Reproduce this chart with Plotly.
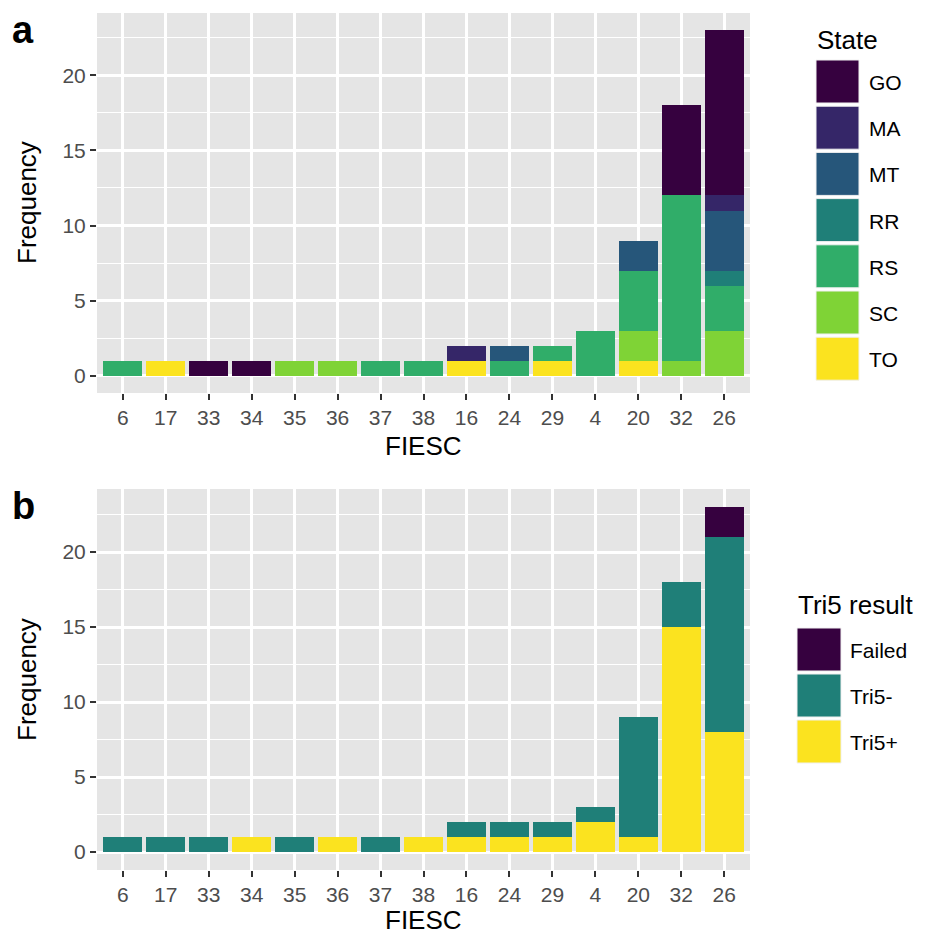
import plotly.graph_objects as go
from plotly.subplots import make_subplots

categories = ["6", "17", "33", "34", "35", "36", "37", "38", "16", "24", "29", "4", "20", "32", "26"]

# Panel a: counts by state (stacked bottom -> top: TO, SC, RS, RR, MT, MA, GO)
state_names = ["GO", "MA", "MT", "RR", "RS", "SC", "TO"]
GO = [0, 0, 1, 1, 0, 0, 0, 0, 0, 0, 0, 0, 0, 6, 11]
MA = [0, 0, 0, 0, 0, 0, 0, 0, 1, 0, 0, 0, 0, 0, 1]
MT = [0, 0, 0, 0, 0, 0, 0, 0, 0, 1, 0, 0, 2, 0, 4]
RR = [0, 0, 0, 0, 0, 0, 0, 0, 0, 0, 0, 0, 0, 0, 1]
RS = [1, 0, 0, 0, 0, 0, 1, 1, 0, 1, 1, 3, 4, 11, 3]
SC = [0, 0, 0, 0, 1, 1, 0, 0, 0, 0, 0, 0, 2, 1, 3]
TO = [0, 1, 0, 0, 0, 0, 0, 0, 1, 0, 1, 0, 1, 0, 0]
state_values = {"GO": GO, "MA": MA, "MT": MT, "RR": RR, "RS": RS, "SC": SC, "TO": TO}
state_colors = {"GO": "#36013f", "MA": "#352668", "MT": "#26567a", "RR": "#1f7f78",
                "RS": "#30ad69", "SC": "#7fd336", "TO": "#fbe31f"}

# Panel b: Tri5 result (stacked bottom -> top: Tri5+, Tri5-, Failed)
tri_names = ["Failed", "Tri5-", "Tri5+"]
Failed = [0, 0, 0, 0, 0, 0, 0, 0, 0, 0, 0, 0, 0, 0, 2]
Tri5_neg = [1, 1, 1, 0, 1, 0, 1, 0, 1, 1, 1, 1, 8, 3, 13]
Tri5_pos = [0, 0, 0, 1, 0, 1, 0, 1, 1, 1, 1, 2, 1, 15, 8]
tri_values = {"Failed": Failed, "Tri5-": Tri5_neg, "Tri5+": Tri5_pos}
tri_colors = {"Failed": "#36013f", "Tri5-": "#1f7f78", "Tri5+": "#fbe31f"}

# The page body has a default 8px margin, so the figure is drawn 8px smaller
OFF = 8
W, H = 931 - OFF, 935 - OFF
FONT = "Liberation Sans, Arial, sans-serif"
# plot region in reference pixels
PL, PR, PT, PB = 97, 750, 13, 870
ML, MR, MT_, MB = PL - OFF, W - (PR - OFF), PT - OFF, H - (PB - OFF)
PW, PH = PR - PL, PB - PT

fig = make_subplots(rows=2, cols=1)


def nz(vals):
    return [v if v != 0 else None for v in vals]


for name in reversed(state_names):
    fig.add_trace(go.Bar(x=categories, y=nz(state_values[name]), name=name,
                         marker=dict(color=state_colors[name], line=dict(width=0)),
                         showlegend=False), row=1, col=1)
for name in reversed(tri_names):
    fig.add_trace(go.Bar(x=categories, y=nz(tri_values[name]), name=name,
                         marker=dict(color=tri_colors[name], line=dict(width=0)),
                         showlegend=False), row=2, col=1)


def px_x(rx):
    return (rx - PL) / PW


def px_y(ry):
    return (PB - ry) / PH


axis_common_x = dict(type="category", categoryorder="array", categoryarray=categories,
                     range=[-0.6, 14.6], showgrid=True, gridcolor="white", gridwidth=2.5,
                     ticks="outside", ticklen=6, tickwidth=2.2, tickcolor="#333333",
                     tickfont=dict(family=FONT, size=21, color="#4d4d4d"),
                     zeroline=False, showline=False, fixedrange=True, automargin=False)
axis_common_y = dict(range=[-1.15, 24.15], tick0=0, dtick=5, showgrid=True, gridcolor="white",
                     gridwidth=2.5, ticks="outside", ticklen=6, tickwidth=2.2, tickcolor="#333333",
                     tickfont=dict(family=FONT, size=21, color="#4d4d4d"),
                     minor=dict(dtick=2.5, tick0=0, showgrid=True, gridcolor="white", gridwidth=1.3,
                                ticks=""),
                     zeroline=False, showline=False, automargin=False)

fig.update_layout(
    width=W, height=H,
    margin=dict(l=ML, r=MR, t=MT_, b=MB),
    paper_bgcolor="white", plot_bgcolor="#e5e5e5",
    barmode="stack", bargap=0.1,
    font=dict(family=FONT),
    xaxis=dict(axis_common_x, domain=[0, 1]),
    yaxis=dict(axis_common_y, domain=[px_y(393), 1]),
    xaxis2=dict(axis_common_x, domain=[0, 1]),
    yaxis2=dict(axis_common_y, range=[-1.2, 24.2], domain=[0, px_y(489)]),
)

shapes = []
annotations = []


def ann(text, x, y, size, xanchor="center", color="black", angle=0):
    annotations.append(dict(text=text, x=px_x(x), y=px_y(y), xref="paper", yref="paper",
                            xanchor=xanchor, yanchor="middle", showarrow=False, textangle=angle,
                            font=dict(family=FONT, size=size, color=color)))


# Panel labels
ann("<b>a</b>", 10, 30, 38, xanchor="left")
ann("<b>b</b>", 10, 506, 38, xanchor="left")

# Axis titles
ann("Frequency", 27, 203, 26, angle=-90)
ann("Frequency", 27, 680, 26, angle=-90)
ann("FIESC", 423, 446, 26)
ann("FIESC", 423, 920, 26)


def legend(title, names, colors, x0, title_y, top, key_w, key_h, pitch, label_x):
    ann(title, x0 - 1, title_y, 26, xanchor="left")
    for i, n in enumerate(names):
        y0 = top + i * pitch
        shapes.append(dict(type="rect", xref="paper", yref="paper",
                           x0=px_x(x0), x1=px_x(x0 + key_w), y0=px_y(y0), y1=px_y(y0 + key_h),
                           fillcolor=colors[n], line=dict(color="#f0f0f0", width=1)))
        ann(n, label_x, y0 + key_h / 2 + 1, 21, xanchor="left")


legend("State", state_names, state_colors, 816, 40, 60, 43, 43, 46.2, 867)
legend("Tri5 result", tri_names, tri_colors, 797, 605, 628, 44, 43, 46, 848)

fig.update_layout(shapes=shapes, annotations=annotations)

fig.write_html("out.html")
